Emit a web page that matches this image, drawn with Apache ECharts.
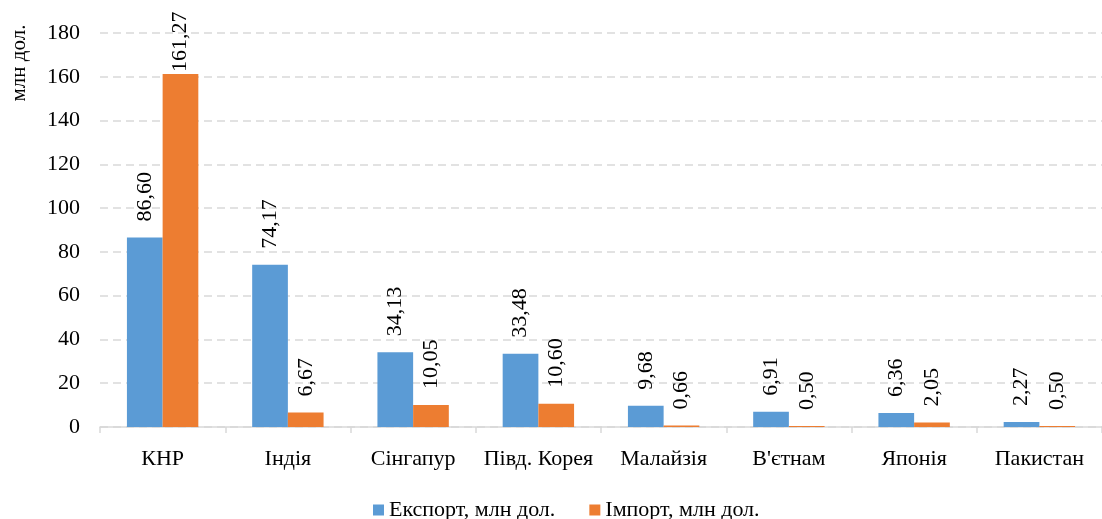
<!DOCTYPE html>
<html>
<head>
<meta charset="utf-8">
<script src="https://cdn.jsdelivr.net/npm/echarts@6/dist/echarts.min.js"></script>
<style>html,body{margin:0;padding:0;background:#fff}#c{width:1102px;height:519px}</style>
</head>
<body>
<div id="c"></div>
<script>
const categories = ['КНР', 'Індія', 'Сінгапур', 'Півд. Корея', 'Малайзія', "В'єтнам", 'Японія', 'Пакистан'];
const exportValues = [86.60, 74.17, 34.13, 33.48, 9.68, 6.91, 6.36, 2.27];
const importValues = [161.27, 6.67, 10.05, 10.60, 0.66, 0.50, 2.05, 0.50];
const seriesNames = ['Експорт, млн дол.', 'Імпорт, млн дол.'];
const yTicks = [0, 20, 40, 60, 80, 100, 120, 140, 160, 180];
const yAxisName = 'млн дол.';

const FONT = 'Liberation Serif';
const FS = 22;
const fmt = v => v.toFixed(2).replace('.', ',');
const chart = echarts.init(document.getElementById('c'), null, {renderer: 'canvas'});
const labelCfg = {
  show: true, position: 'top', rotate: 90, align: 'left', verticalAlign: 'middle',
  distance: 16, color: '#000', fontFamily: FONT, fontSize: FS,
  formatter: p => fmt(p.value)
};
// labels that would run past the top of the chart are pulled down (as the original does)
const withFit = arr => arr.map(v => v > 150 ? {value: v, label: {distance: 2}} : v);
chart.setOption({
  animation: false,
  textStyle: {fontFamily: FONT},
  grid: {left: 100, right: -10, top: 33, bottom: 92, containLabel: false},
  legend: {
    top: 494, left: 368, icon: 'rect', itemWidth: 11, itemHeight: 11, itemGap: 34,
    textStyle: {fontFamily: FONT, fontSize: FS, color: '#000'},
    data: seriesNames
  },
  graphic: [{
    type: 'text', x: 19, y: 63, rotation: Math.PI / 2,
    style: {text: yAxisName, fontFamily: FONT, fontSize: 21, fill: '#000', align: 'center', verticalAlign: 'middle'}
  }],
  xAxis: {
    type: 'category', data: categories, boundaryGap: true,
    axisLine: {lineStyle: {color: '#d9d9d9', width: 1.5}},
    axisTick: {show: true, alignWithLabel: false, length: 6, lineStyle: {color: '#d9d9d9', width: 1.5}},
    axisLabel: {color: '#000', fontFamily: FONT, fontSize: FS, margin: 21, interval: 0}
  },
  yAxis: {
    type: 'value', min: yTicks[0], max: yTicks[yTicks.length - 1], interval: 20,
    axisLine: {show: false}, axisTick: {show: false},
    axisLabel: {color: '#000', fontFamily: FONT, fontSize: FS, margin: 20},
    splitLine: {lineStyle: {color: '#d9d9d9', width: 1.5, type: [8, 5]}}
  },
  series: [
    {name: seriesNames[0], type: 'bar', data: withFit(exportValues), barGap: '0%', barCategoryGap: '43%',
     itemStyle: {color: '#5B9BD5'}, label: labelCfg},
    {name: seriesNames[1], type: 'bar', data: withFit(importValues),
     itemStyle: {color: '#ED7D31'}, label: labelCfg}
  ]
});
</script>
</body>
</html>
